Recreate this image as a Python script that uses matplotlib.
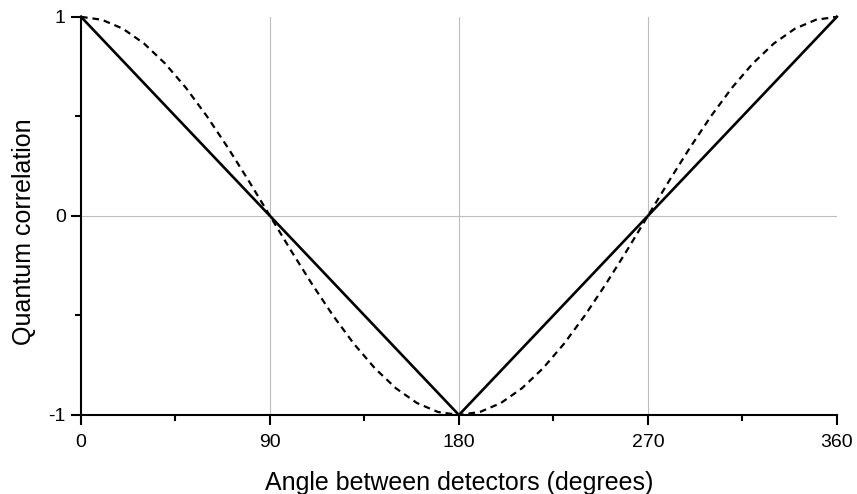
import numpy as np
import matplotlib.pyplot as plt
from matplotlib.ticker import MultipleLocator

plt.rcParams['font.family'] = ['Liberation Sans', 'DejaVu Sans']

# solid line (linear correlation)
lin_angle = [0, 180, 360]
lin_corr = [1, -1, 1]

# dashed line (quantum correlation), read every 10 degrees
qm_angle = list(range(0, 361, 10))
qm_corr = [1.0, 0.985, 0.94, 0.866, 0.766, 0.643, 0.5, 0.342, 0.174, 0.0,
           -0.174, -0.342, -0.5, -0.643, -0.766, -0.866, -0.94, -0.985, -1.0,
           -0.985, -0.94, -0.866, -0.766, -0.643, -0.5, -0.342, -0.174, 0.0,
           0.174, 0.342, 0.5, 0.643, 0.766, 0.866, 0.94, 0.985, 1.0]

xticks = [0, 90, 180, 270, 360]
yticks = [-1, 0, 1]

fig = plt.figure(figsize=(8.57, 4.94), dpi=100)
ax = fig.add_axes([0.0945, 0.16, 0.882, 0.806])

for x in [90, 180, 270]:
    ax.axvline(x, color='#bdbdbd', lw=0.8, zorder=0)
ax.axhline(0, color='#bdbdbd', lw=0.8, zorder=0)

ax.plot(qm_angle, qm_corr, color='black', lw=1.6, ls=(0, (3, 2.2)), clip_on=False)
ax.plot(lin_angle, lin_corr, color='black', lw=1.9, clip_on=False)

ax.set_xlim(0, 360)
ax.set_ylim(-1, 1)
ax.set_xticks(xticks)
ax.set_yticks(yticks)
ax.set_yticklabels(['-1', '0', '1'])
ax.xaxis.set_minor_locator(MultipleLocator(45))
ax.yaxis.set_minor_locator(MultipleLocator(0.5))
ax.tick_params(which='major', length=7, width=1.5, labelsize=14, direction='out', pad=4)
ax.tick_params(axis='x', which='major', pad=7)
ax.tick_params(which='minor', length=4, width=1.5, direction='out')

for s in ['top', 'right']:
    ax.spines[s].set_visible(False)
for s in ['left', 'bottom']:
    ax.spines[s].set_linewidth(1.5)

ax.set_xlabel('Angle between detectors (degrees)', fontsize=18, labelpad=14)
ax.set_ylabel('Quantum correlation', fontsize=18)
ax.yaxis.set_label_coords(-0.06, 0.46)

fig.savefig('out.png', dpi=100)
